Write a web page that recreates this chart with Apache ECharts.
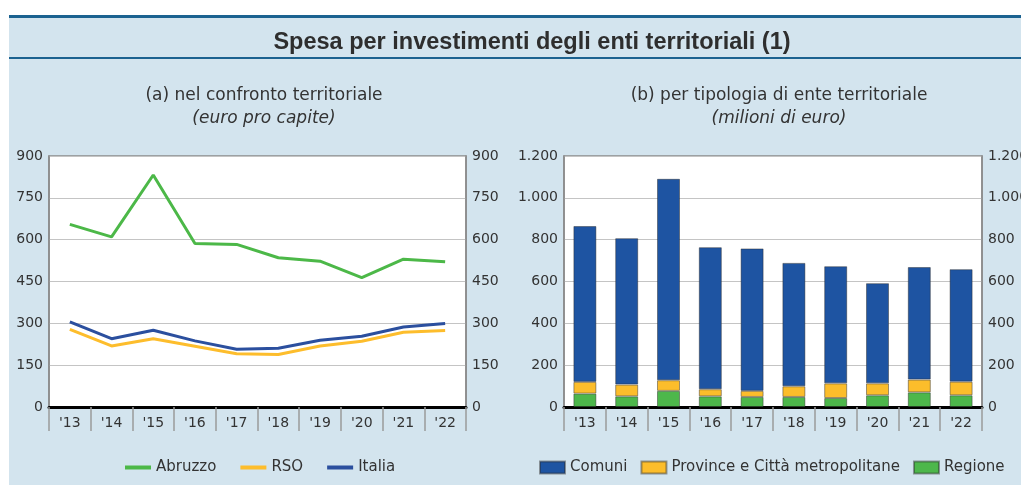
<!DOCTYPE html>
<html>
<head>
<meta charset="utf-8">
<script src="https://cdn.jsdelivr.net/npm/echarts@6/dist/echarts.min.js"></script>
<style>
html,body{margin:0;padding:0;background:#fff;}
#c{width:1021px;height:485px;}
</style>
</head>
<body>
<div id="c"></div>
<script>
// ---- data ----
const years = ["'13","'14","'15","'16","'17","'18","'19","'20","'21","'22"];
const abruzzo = [655, 610, 832, 586, 583, 535, 523, 464, 530, 521];
const rso     = [278, 219, 245, 218, 191, 188, 219, 236, 268, 274];
const italia  = [305, 245, 275, 237, 207, 211, 239, 254, 287, 299];
const comuni   = [745, 700, 963, 679, 681, 590, 560, 479, 538, 538];
const province = [56, 56, 51, 34, 29, 51, 70, 57, 61, 65];
const regione  = [64, 51, 77, 51, 48, 48, 43, 56, 70, 56];

const FONT = 'DejaVu Sans';
const TXT = '#333';
const BG = '#d3e4ee';
const LINEC = '#1b6290';

function fmtIt(v){ return String(v).replace(/\B(?=(\d{3})+(?!\d))/g, '.'); }

const chart = echarts.init(document.getElementById('c'), null, {renderer:'canvas'});

function yAxisBase(gridIndex, max, interval, pos, fmt){
  return {
    type:'value', gridIndex, min:0, max, interval, position:pos,
    axisLine:{show:true, lineStyle:{color:'#8a8a8a', width:1.5}},
    axisTick:{show:false},
    splitLine:{show: pos==='left', lineStyle:{color:'#c4c4c4', width:1}},
    axisLabel:{color:TXT, fontFamily:FONT, fontSize:14, margin:6, formatter: fmt}
  };
}
function xAxisBase(gridIndex){
  return {
    type:'category', gridIndex, data:years, boundaryGap:true,
    axisLine:{show:true, lineStyle:{color:'#000', width:3}},
    axisTick:{show:true, alignWithLabel:false, length:24, lineStyle:{color:'#9a9a9a', width:1.5}},
    axisLabel:{color:TXT, fontFamily:FONT, fontSize:14, margin:9},
    splitLine:{show:false}
  };
}

const barBorder = {borderColor:'rgba(40,40,40,0.45)', borderWidth:1};

const option = {
  backgroundColor:'#fff',
  animation:false,
  graphic:[
    {type:'rect', shape:{x:9, y:15, width:1012, height:470}, style:{fill:BG}, z:-10},
    {type:'rect', shape:{x:9, y:15, width:1012, height:3}, style:{fill:LINEC}, z:-9},
    {type:'rect', shape:{x:9, y:57, width:1012, height:2}, style:{fill:LINEC}, z:-9}
  ],
  title:[
    {text:'Spesa per investimenti degli enti territoriali (1)', left:527, top:26, textAlign:'center',
     textStyle:{fontFamily:'Liberation Sans', fontWeight:'bold', fontSize:23.5, color:'#2e2e2e'}},
    {text:'(a) nel confronto territoriale', subtext:'(euro pro capite)', left:259, top:82, textAlign:'center', itemGap:6,
     textStyle:{fontFamily:FONT, fontWeight:'normal', fontSize:17, color:TXT},
     subtextStyle:{fontFamily:FONT, fontStyle:'italic', fontSize:17, color:TXT}},
    {text:'(b) per tipologia di ente territoriale', subtext:'(milioni di euro)', left:774, top:82, textAlign:'center', itemGap:6,
     textStyle:{fontFamily:FONT, fontWeight:'normal', fontSize:17, color:TXT},
     subtextStyle:{fontFamily:FONT, fontStyle:'italic', fontSize:17, color:TXT}}
  ],
  legend:[
    {data:['Abruzzo','RSO','Italia'], left:120, top:455, icon:'rect', itemWidth:26, itemHeight:4, itemGap:24,
     textStyle:{fontFamily:FONT, fontSize:15, color:TXT}},
    {data:['Comuni','Province e Città metropolitane','Regione'], left:534, top:455, icon:'rect', itemWidth:25, itemHeight:12, itemGap:13,
     textStyle:{fontFamily:FONT, fontSize:15, color:TXT}}
  ],
  grid:[
    {left:49, right:555, top:156, bottom:78, show:true, backgroundColor:'#fff', borderColor:'#8a8a8a', borderWidth:1.5, containLabel:false, outerBoundsMode:'none'},
    {left:564, right:39, top:156, bottom:78, show:true, backgroundColor:'#fff', borderColor:'#8a8a8a', borderWidth:1.5, containLabel:false, outerBoundsMode:'none'}
  ],
  xAxis:[ xAxisBase(0), xAxisBase(1) ],
  yAxis:[
    yAxisBase(0, 900, 150, 'left'),
    yAxisBase(0, 900, 150, 'right'),
    yAxisBase(1, 1200, 200, 'left', fmtIt),
    yAxisBase(1, 1200, 200, 'right', fmtIt)
  ],
  series:[
    {name:'Abruzzo', type:'line', xAxisIndex:0, yAxisIndex:0, data:abruzzo, symbol:'none', color:'#4cb848', lineStyle:{width:3}, z:5},
    {name:'RSO', type:'line', xAxisIndex:0, yAxisIndex:0, data:rso, symbol:'none', color:'#fdbd2c', lineStyle:{width:3}, z:5},
    {name:'Italia', type:'line', xAxisIndex:0, yAxisIndex:0, data:italia, symbol:'none', color:'#2b4f9e', lineStyle:{width:3}, z:6},
    {name:'Regione', type:'bar', xAxisIndex:1, yAxisIndex:2, stack:'b', data:regione, barWidth:23, color:'#4db74b', itemStyle:barBorder},
    {name:'Province e Città metropolitane', type:'bar', xAxisIndex:1, yAxisIndex:2, stack:'b', data:province, barWidth:23, color:'#fcbd2b', itemStyle:barBorder},
    {name:'Comuni', type:'bar', xAxisIndex:1, yAxisIndex:2, stack:'b', data:comuni, barWidth:23, color:'#1e54a2', itemStyle:barBorder}
  ]
};
chart.setOption(option);
</script>
</body>
</html>
